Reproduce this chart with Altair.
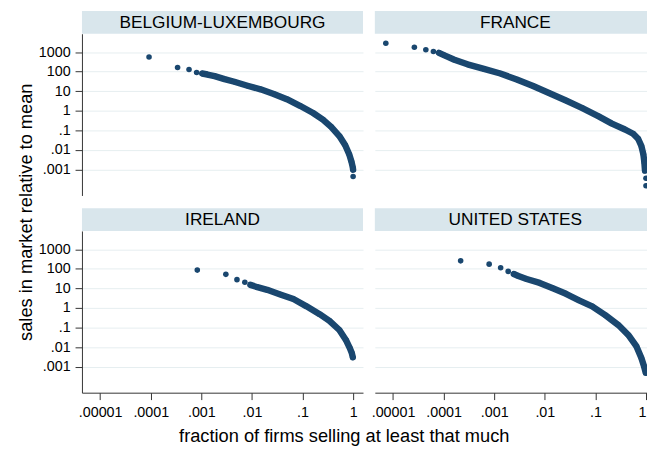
import altair as alt
import pandas as pd

FONT = "Liberation Sans"
NAVY = "#1a476f"
HEADER = "#d9e6ec"
GRID = "#e6eef0"
AXIS = "#333333"

COUNTRIES = ["BELGIUM-LUXEMBOURG", "FRANCE", "IRELAND", "UNITED STATES"]

# --- values (x = fraction of firms, y = sales / mean) ---
# isolated points (largest firms / smallest firms), and the dense band
BL_iso_x = [9.25e-5, 3.39e-4, 5.71e-4, 8.07e-4, 1.0]
BL_iso_y = [559, 162, 128, 90.4, 0.000433]
BL_band_x = [1.04e-3, 1.32e-3, 1.83e-3, 2.87e-3, 4.49e-3, 8.17e-3, 0.0148, 0.0270,
             0.0490, 0.0890, 0.162, 0.253, 0.368, 0.535, 0.699, 0.836, 0.929,
             0.986, 0.999]
BL_band_y = [80.5, 71.6, 59.0, 41.7, 30.6, 19.2, 12.5, 7.28, 3.92, 1.80, 0.769,
             0.354, 0.151, 0.0509, 0.0172, 0.00604, 0.00248, 0.00128, 0.000977]

FR_iso_x = [7.2e-6, 2.64e-5, 4.45e-5, 6.28e-5, 1.0, 1.0]
FR_iso_y = [2851, 1791, 1312, 1081, 0.000356, 0.000146]
FR_band_x = [8.09e-5, 1.04e-4, 1.63e-4, 2.96e-4, 6.25e-4, 1.32e-3, 2.79e-3,
             5.87e-3, 0.0124, 0.0262, 0.0552, 0.116, 0.212, 0.385, 0.558, 0.699,
             0.811, 0.887, 0.929, 0.957]
FR_band_y = [925, 680, 410, 238, 138, 80.5, 40.1, 18.5, 7.87, 3.35, 1.37, 0.521,
             0.222, 0.111, 0.0668, 0.0373, 0.0159, 0.00604, 0.00229, 0.000869]

IE_iso_x = [8.32e-4, 3.05e-3, 5.06e-3, 7.24e-3]
IE_iso_y = [86.9, 52.6, 28.2, 20.7]
IE_band_x = [9.33e-3, 0.0128, 0.0200, 0.0363, 0.0661, 0.120, 0.218, 0.341, 0.535,
             0.720, 0.861, 0.942, 0.986]
IE_band_y = [15.2, 11.6, 8.49, 4.94, 2.87, 1.22, 0.483, 0.222, 0.0750, 0.0234,
             0.00889, 0.00497, 0.00300]

US_iso_x = [2.17e-4, 7.94e-4, 1.34e-3, 1.89e-3]
US_iso_y = [258, 175, 114, 74.5]
US_band_x = [2.44e-3, 3.00e-3, 4.36e-3, 7.92e-3, 0.0144, 0.0262, 0.0475, 0.0863,
             0.157, 0.285, 0.447, 0.649, 0.811, 0.914, 0.99]
US_band_y = [54.6, 43.3, 30.6, 19.2, 10.3, 5.33, 2.46, 1.22, 0.430, 0.134, 0.0420,
             0.0108, 0.00278, 0.00106, 0.000486]

X_TICKS = [0.00001, 0.0001, 0.001, 0.01, 0.1, 1]
Y_TICKS = [1000, 100, 10, 1, 0.1, 0.01, 0.001]
X_TITLE = "fraction of firms selling at least that much"
Y_TITLE = "sales in market relative to mean"

LABEL_EXPR = "datum.value >= 1 ? toString(datum.value) : slice(toString(datum.value), 1)"

SERIES = {
    "BELGIUM-LUXEMBOURG": (BL_iso_x, BL_iso_y, BL_band_x, BL_band_y),
    "FRANCE": (FR_iso_x, FR_iso_y, FR_band_x, FR_band_y),
    "IRELAND": (IE_iso_x, IE_iso_y, IE_band_x, IE_band_y),
    "UNITED STATES": (US_iso_x, US_iso_y, US_band_x, US_band_y),
}

H = 164
DECADE_X = 51.3
X_LO = -5.36


def panel(name, col, row):
    w = 285 if col == 0 else 276
    xi, yi, xb, yb = SERIES[name]
    iso = pd.DataFrame({"x": xi, "y": yi})
    band = pd.DataFrame({"x": xb, "y": yb})
    xscale = alt.Scale(type="log", domain=[10 ** X_LO, 10 ** (X_LO + w / DECADE_X)], nice=False)
    yscale = alt.Scale(type="log", domain=[10 ** -4.33, 10 ** 3.94], nice=False)

    if row == 1:
        xaxis = alt.Axis(values=X_TICKS, labelExpr=LABEL_EXPR, grid=False, title=None,
                         tickSize=7, labelPadding=6, labelFlush=3)
    else:
        xaxis = None
    if col == 0:
        yaxis = alt.Axis(values=Y_TICKS, labelExpr=LABEL_EXPR, grid=True, title=None,
                         tickSize=7, labelPadding=5)
    else:
        yaxis = alt.Axis(values=Y_TICKS, labels=False, ticks=False, domain=False,
                         grid=True, title=None)

    X = alt.X("x:Q", scale=xscale, axis=xaxis)
    Y = alt.Y("y:Q", scale=yscale, axis=yaxis)

    line = alt.Chart(band).mark_line(color=NAVY, strokeWidth=6.5, strokeCap="round",
                                     strokeJoin="round", clip=True).encode(x=X, y=Y, order="x:Q")
    pts_band = alt.Chart(band).mark_circle(size=32, color=NAVY, opacity=1, clip=True).encode(x=X, y=Y)
    pts_iso = alt.Chart(iso).mark_circle(size=32, color=NAVY, opacity=1, clip=True).encode(x=X, y=Y)

    hdr = pd.DataFrame({"country": [name]})
    head_rect = alt.Chart(hdr).mark_rect(color=HEADER).encode(
        x=alt.value(0), x2=alt.value(w), y=alt.value(-23), y2=alt.value(0))
    head_text = alt.Chart(hdr).mark_text(font=FONT, fontSize=17.5, color="black",
                                         align="center", baseline="alphabetic").encode(
        text="country:N", x=alt.value(142.5), y=alt.value(-6))

    layers = [head_rect, head_text, line, pts_band, pts_iso]

    if col == 0 and row == 1:
        t = pd.DataFrame({"t": [Y_TITLE]})
        ytitle = alt.Chart(t).mark_text(font=FONT, fontSize=18.5, angle=270, color="black",
                                        align="center", baseline="alphabetic").encode(
            text="t:N", x=alt.value(-51), y=alt.value(-19))
        t2 = pd.DataFrame({"t": [X_TITLE]})
        xtitle = alt.Chart(t2).mark_text(font=FONT, fontSize=18.5, color="black",
                                         align="center", baseline="alphabetic").encode(
            text="t:N", x=alt.value(266), y=alt.value(214))
        layers += [ytitle, xtitle]

    return alt.layer(*layers).properties(width=w, height=H)


panels = [panel(COUNTRIES[0], 0, 0), panel(COUNTRIES[1], 1, 0),
          panel(COUNTRIES[2], 0, 1), panel(COUNTRIES[3], 1, 1)]

chart = alt.concat(*panels, columns=2, spacing={"row": 36, "column": 12}, bounds="flush").properties(
    padding={"left": 8, "top": 0, "right": 0, "bottom": 0},
    background="white",
).configure_view(stroke=None).configure_axis(
    labelFont=FONT, labelFontSize=14.5, labelColor="black",
    domainColor=AXIS, domainWidth=1, tickColor=AXIS, tickWidth=1,
    gridColor=GRID, gridWidth=1,
)

chart.save("out.html", embed_options={"renderer": "svg", "actions": False})
